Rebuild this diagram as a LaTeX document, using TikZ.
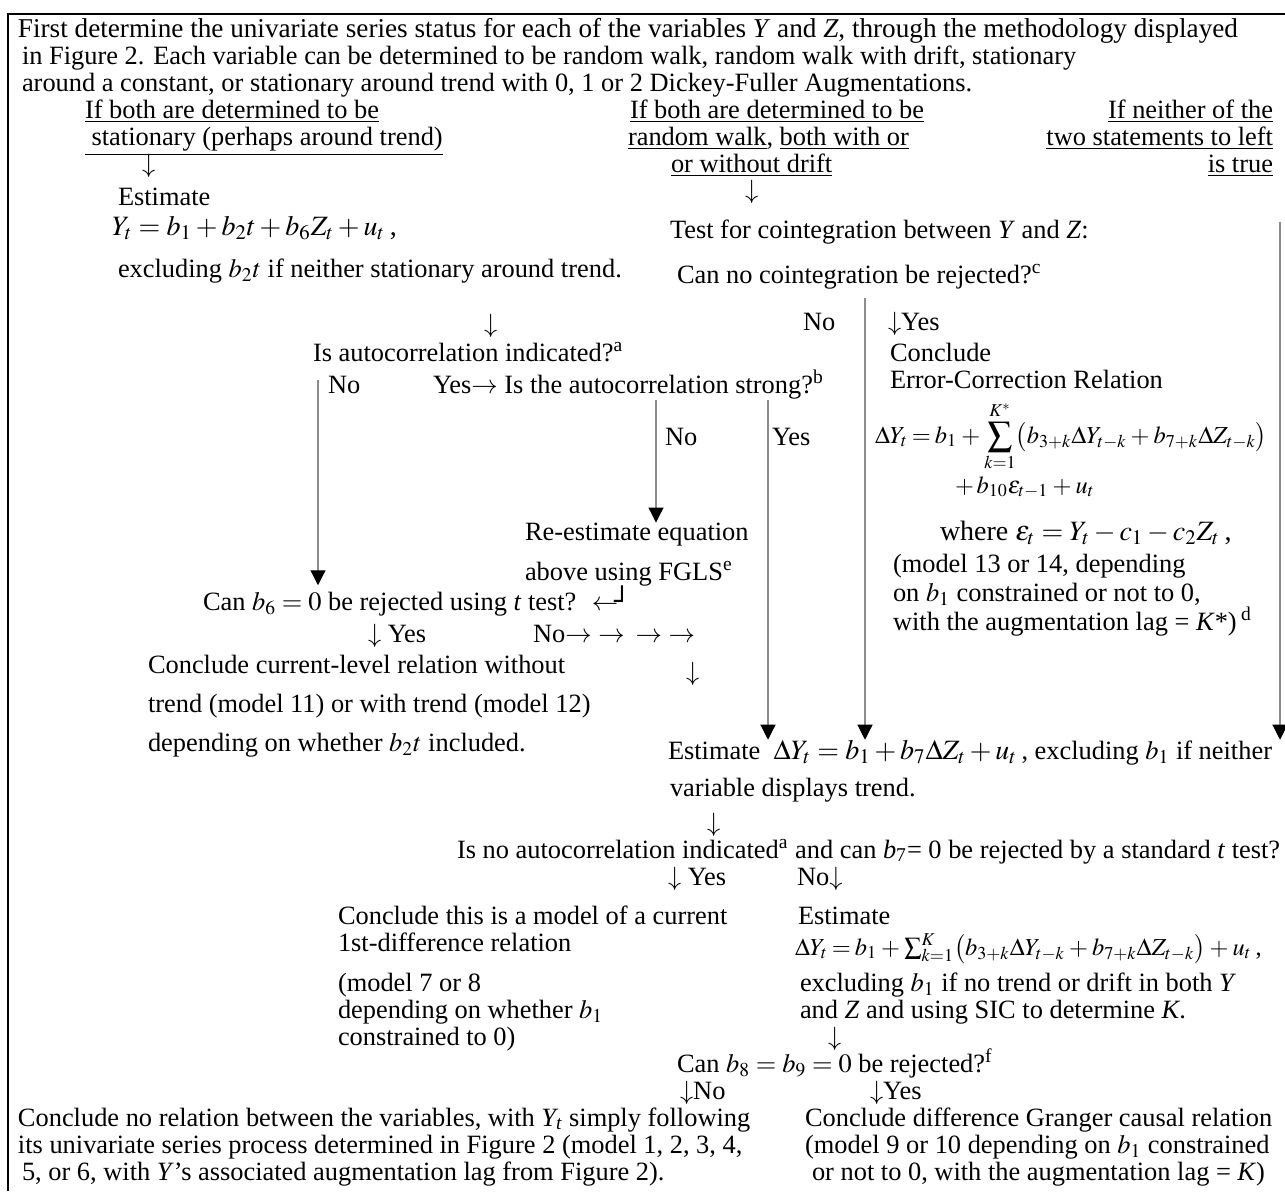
\documentclass[tikz,border=0pt]{standalone}
\usepackage{mathptmx}
\usepackage{fontspec}
\setmainfont{Liberation Serif}
\newfontfamily\arwfont{DejaVu Sans}
\newcommand{\dnarw}{$\downarrow$}
\newcommand{\rtarw}{$\rightarrow$}
\newcommand{\lfarw}{$\leftarrow$}
\newcommand{\tighteq}{\thickmuskip=3mu\relax\medmuskip=3mu\relax}
\usetikzlibrary{arrows.meta}

\tikzstyle{txt}=[anchor=base west,inner sep=0pt,outer sep=0pt]
\tikzstyle{rtxt}=[anchor=base east,inner sep=0pt,outer sep=0pt]
\tikzstyle{eqn}=[txt,font=\fontsize{12.2}{14}\selectfont\tighteq]
\tikzstyle{flowline}=[draw=gray!90,line width=0.6pt,-{Triangle[width=7.5pt,length=7.5pt,color=black]}]

\begin{document}
\begin{tikzpicture}[x=0.5pt,y=-0.5pt,font=\fontsize{13.2}{15}\selectfont]
\useasboundingbox (0,0) rectangle (1285,1191);
\draw[line width=1pt](8,1191)--(8,14)--(1285,14);

\node(intro1)[txt,font=\fontsize{13.6}{15}\selectfont]at(18,37){First determine the univariate series status for each of the variables \textit{Y} and \textit{Z}, through the methodology displayed};
\node(intro2)[txt]at(22,64){in Figure 2. Each variable can be determined to be random walk, random walk with drift, stationary};
\node(intro3)[txt]at(22,91){around a constant, or stationary around trend with 0, 1 or 2 Dickey-Fuller Augmentations.};

\node(statA)[txt]at(85,118){\underline{If both are determined to be}};
\node(statB)[txt]at(85,145){\underline{ stationary (perhaps around trend)}};
\node(statdown)[txt]at(142,172){\dnarw};
\node(estA)[txt]at(118,205){Estimate};
\node(eqA)[txt,font=\fontsize{14}{16}\selectfont]at(112,235){$Y_t = b_1 + b_2t + b_6Z_t + u_t$\,,};
\node(exclA)[txt]at(118,277){excluding $b_2t$ if neither stationary around trend.};
\node(exdown)[txt]at(484,332){\dnarw};
\node(autoc)[txt]at(313,361){Is autocorrelation indicated?\textsuperscript{a}};
\node(autono)[txt]at(328,393){No};
\node(strong)[txt]at(433,393){Yes\rtarw{} Is the autocorrelation strong?\textsuperscript{b}};
\node(strongno)[txt]at(665,445){No};
\node(strongyes)[txt]at(772,445){Yes};
\node(reestA)[txt]at(525,540){Re-estimate equation};
\node(reestB)[txt]at(525,580){above using FGLS\textsuperscript{e}};
\node(cantest)[txt]at(203,610){Can $b_6 = 0$ be rejected using \textit{t} test? \ \lfarw\kern-2pt{\arwfont ┘}};
\node(testyes)[txt]at(368,642){\dnarw{} Yes};
\node(testno)[txt]at(533,642){No\rtarw{} \rtarw{} \,\rtarw{} \rtarw};
\node(levelA)[txt]at(148,673){Conclude current-level relation without};
\node(levelB)[txt]at(148,712){trend (model 11) or with trend (model 12)};
\node(levelC)[txt]at(148,751){depending on whether $b_2t$ included.};
\node(nodown)[txt]at(686,680){\dnarw};

\node(rwA)[txt]at(630,118){\underline{If both are determined to be}};
\node(rwB)[txt]at(628,145){\underline{random walk}, \underline{both with or}};
\node(rwC)[txt]at(671,172){\underline{or without drift}};
\node(rwdown)[txt]at(745,198){\dnarw};
\node(coint)[txt]at(670,238){Test for cointegration between \textit{Y} and \textit{Z}:};
\node(nocoint)[txt]at(677,283){Can no cointegration be rejected?\textsuperscript{c}};
\node(cointno)[txt]at(803,330){No};
\node(cointyes)[txt]at(888,330){\dnarw Yes};
\node(ecmA)[txt]at(890,361){Conclude};
\node(ecmB)[txt]at(890,388){Error-Correction Relation};
\node(ecmeq)[eqn]at(875,443){$\Delta Y_t = b_1 + \displaystyle\sum_{k=1}^{K^*}\bigl(b_{3+k}\Delta Y_{t-k} + b_{7+k}\Delta Z_{t-k}\bigr)$};
\node(ecmeqB)[eqn]at(955,493){$+\, b_{10}\varepsilon_{t-1} + u_t$};
\node(ecmeqC)[eqn,font=\fontsize{14}{16}\selectfont]at(940,540){where $\varepsilon_t = Y_t - c_1 - c_2Z_t$\,,};
\node(ecmC)[txt]at(893,572){(model 13 or 14, depending};
\node(ecmD)[txt]at(893,601){on $b_1$ constrained or not to 0,};
\node(ecmE)[txt]at(893,630){with the augmentation lag = \textit{K}*)\,\textsuperscript{d}};

\node(neitherA)[rtxt]at(1273,118){\underline{If neither of the}};
\node(neitherB)[rtxt]at(1273,145){\underline{two statements to left}};
\node(neitherC)[rtxt]at(1273,172){\underline{is true}};

\node(estdiff)[txt]at(668,759){Estimate \ {\fontsize{14}{16}\selectfont$\Delta Y_t = b_1 + b_7\Delta Z_t + u_t$}\,, excluding $b_1$ if neither};
\node(estdiffB)[txt]at(670,796){variable displays trend.};
\node(estdown)[txt]at(707,831){\dnarw};
\node(noauto)[txt]at(457,858){Is no autocorrelation indicated\textsuperscript{a} and can \textit{b}\textsubscript{7}= 0 be rejected by a standard \textit{t} test?};
\node(noautoyes)[txt]at(668,885){\dnarw{} Yes};
\node(noautono)[txt]at(797,885){No\dnarw};

\node(curA)[txt]at(338,924){Conclude this is a model of a current};
\node(curB)[txt]at(338,951){1st-difference relation};
\node(curC)[txt]at(338,991){(model 7 or 8};
\node(curD)[txt]at(338,1018){depending on whether $b_1$};
\node(curE)[txt]at(338,1045){constrained to 0)};

\node(lagA)[txt]at(798,924){Estimate};
\node(lageq)[eqn]at(795,955){$\Delta Y_t = b_1 + \sum_{k=1}^{K}\bigl(b_{3+k}\Delta Y_{t-k} + b_{7+k}\Delta Z_{t-k}\bigr) + u_t$\,,};
\node(lagB)[txt]at(800,991){excluding $b_1$ if no trend or drift in both \textit{Y}};
\node(lagC)[txt]at(800,1018){and \textit{Z} and using SIC to determine \textit{K}.};
\node(lagdown)[txt]at(828,1045){\dnarw};
\node(granger)[txt]at(677,1072){Can $b_8 = b_9 = 0$ be rejected?\textsuperscript{f}};
\node(grangerno)[txt]at(680,1099){\dnarw No};
\node(grangeryes)[txt]at(870,1099){\dnarw Yes};

\node(norelA)[txt]at(18,1126){Conclude no relation between the variables, with \textit{Y\textsubscript{t}} simply following};
\node(norelB)[txt]at(18,1153){its univariate series process determined in Figure 2 (model 1, 2, 3, 4,};
\node(norelC)[txt]at(22,1180){5, or 6, with \textit{Y}’s associated augmentation lag from Figure 2).};
\node(gcA)[txt]at(805,1126){Conclude difference Granger causal relation};
\node(gcB)[txt]at(805,1153){(model 9 or 10 depending on $b_1$ constrained};
\node(gcC)[txt]at(812,1180){or not to 0, with the augmentation lag = \textit{K})};

\coordinate(autotop)at(318,380);
\coordinate(strongtop)at(656,400);
\coordinate(yestop)at(768,400);
\coordinate(cointtop)at(865,298);
\coordinate(neithertop)at(1280,222);
\draw[flowline](autotop)--(autotop|-cantest.north);
\draw[flowline](strongtop)--(strongtop|-reestA.north);
\draw[flowline](yestop)--(yestop|-estdiff.north);
\draw[flowline](cointtop)--(cointtop|-estdiff.north);
\draw[flowline](neithertop)--(neithertop|-estdiff.north);
\end{tikzpicture}
\end{document}
